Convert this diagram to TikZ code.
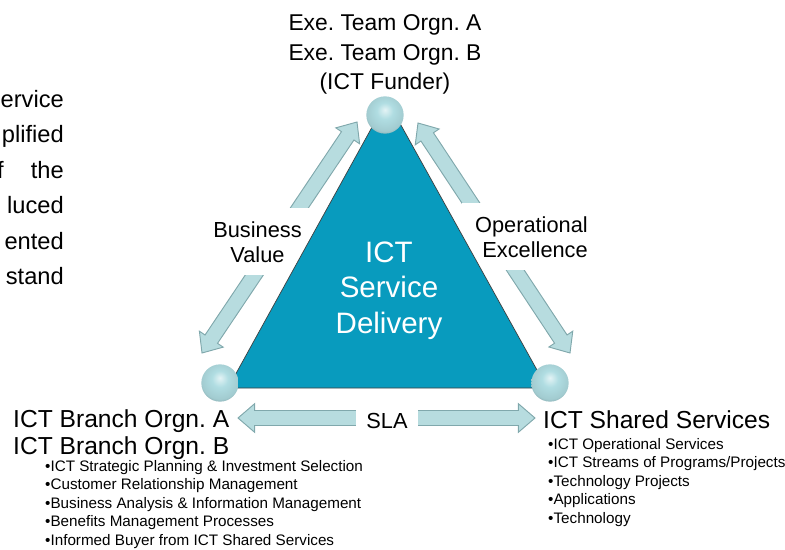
\documentclass[tikz,border=0pt]{standalone}
\usepackage{fontspec}
\setmainfont{Liberation Sans}
\usetikzlibrary{calc}
\pgfdeclarelayer{bg}
\pgfsetlayers{bg,main}
\definecolor{tri}{RGB}{8,155,190}
\definecolor{arrfill}{RGB}{183,220,223}
\definecolor{arrline}{RGB}{128,168,172}
\definecolor{sph}{RGB}{176,221,226}
\pgfdeclareradialshading{sphball}{\pgfpoint{0bp}{7bp}}{color(0bp)=(sph!35!white); color(11bp)=(sph); color(25bp)=(sph!92!black); color(32bp)=(sph!72!black); color(50bp)=(sph!72!black)}
\tikzset{
    sphere/.style={circle, minimum size=1.12cm, inner sep=0pt, shade, shading=sphball},
    blockarr/.style={fill=arrfill, draw=arrline, line width=.8pt, line join=miter},
    edgelbl/.style={fill=white, font=\fontsize{18.6}{21.3}\selectfont, inner xsep=.4cm, inner ysep=.39cm},
    toplbl/.style={inner sep=0pt, align=center, anchor=base, font=\fontsize{19.5}{25.6}\selectfont},
    midlbl/.style={inner sep=0pt, align=center, anchor=base, text=white, font=\fontsize{25.2}{30.3}\selectfont},
    vtxlbl/.style={inner sep=0pt, align=left, anchor=base west, font=\fontsize{21}{23}\selectfont},
    bullets/.style={inner sep=0pt, align=left, anchor=base west, font=\fontsize{13}{15.7}\selectfont},
    paratxt/.style={inner sep=0pt, align=right, anchor=base east, font=\fontsize{20.2}{30.3}\selectfont}
}
\newcommand{\blockarrow}[2]{%
    \filldraw[blockarr] (#1)
        -- ($(#1)!.5cm!(#2)!.43cm!90:(#2)$)
        -- ($(#1)!.5cm!(#2)!.225cm!90:(#2)$)
        -- ($(#2)!.5cm!(#1)!.225cm!-90:(#1)$)
        -- ($(#2)!.5cm!(#1)!.43cm!-90:(#1)$)
        -- (#2)
        -- ($(#2)!.5cm!(#1)!.43cm!90:(#1)$)
        -- ($(#2)!.5cm!(#1)!.225cm!90:(#1)$)
        -- ($(#1)!.5cm!(#2)!.225cm!-90:(#2)$)
        -- ($(#1)!.5cm!(#2)!.43cm!-90:(#2)$)
        -- cycle;}
\frenchspacing

\begin{document}
\begin{tikzpicture}
    \useasboundingbox (0cm, 0cm) rectangle (23.55cm, 16.47cm);

    \coordinate (ta) at (11.61cm, 13.47cm);
    \coordinate (tb) at (6.84cm, 4.83cm);
    \coordinate (tc) at (16.41cm, 4.83cm);

    \coordinate (bv0) at (6.06cm, 5.88cm);
    \coordinate (bv1) at (10.71cm, 12.81cm);
    \coordinate (oe0) at (12.54cm, 12.78cm);
    \coordinate (oe1) at (17.1cm, 5.88cm);
    \coordinate (sla0) at (7.14cm, 3.93cm);
    \coordinate (sla1) at (16.05cm, 3.93cm);

    \begin{pgfonlayer}{bg}
        \blockarrow{bv0}{bv1}
        \blockarrow{oe1}{oe0}
        \blockarrow{sla0}{sla1}

        \node (bv) [edgelbl, align=center, anchor=base] at (7.725cm, 8.61cm) {Business\\Value};
        \node (oe) [edgelbl, align=right, anchor=base east] at (18.04cm, 8.76cm) {Operational\\Excellence};
        \node (sla) [edgelbl, inner xsep=.3cm, anchor=base] at (11.61cm, 3.63cm) {SLA};

        \filldraw[fill=tri, draw=black!75, line width=.6pt] (ta) -- (tb) -- (tc) -- cycle;
    \end{pgfonlayer}

    \node (exe) [sphere] at (11.55cm, 13.02cm) {};
    \node (brn) [sphere] at (6.6cm, 4.98cm) {};
    \node (shd) [sphere] at (16.5cm, 4.98cm) {};

    \node (exet) [toplbl] at (11.55cm, 13.77cm) {Exe. Team Orgn. A\\Exe. Team Orgn. B\\(ICT Funder)};
    \node (ict) [midlbl] at (11.67cm, 6.48cm) {ICT\\Service\\Delivery};

    \node (brnt) [vtxlbl] at (0.39cm, 2.85cm) {ICT Branch Orgn. A\\ICT Branch Orgn. B};
    \node (brnl) [bullets] at (1.35cm, 0.12cm) {•ICT Strategic Planning \& Investment Selection\\•Customer Relationship Management\\•Business Analysis \& Information Management\\•Benefits Management Processes\\•Informed Buyer from ICT Shared Services};

    \node (shdt) [vtxlbl] at (16.29cm, 3.63cm) {ICT Shared Services};
    \node (shdl) [bullets] at (16.44cm, 0.78cm) {•ICT Operational Services\\•ICT Streams of Programs/Projects\\•Technology Projects\\•Applications\\•Technology};

    \node (para) [paratxt] at (1.92cm, 7.935cm) {ervice\\plified\\f\hspace{1.15em}the\\luced\\ented\\stand};
\end{tikzpicture}
\end{document}
